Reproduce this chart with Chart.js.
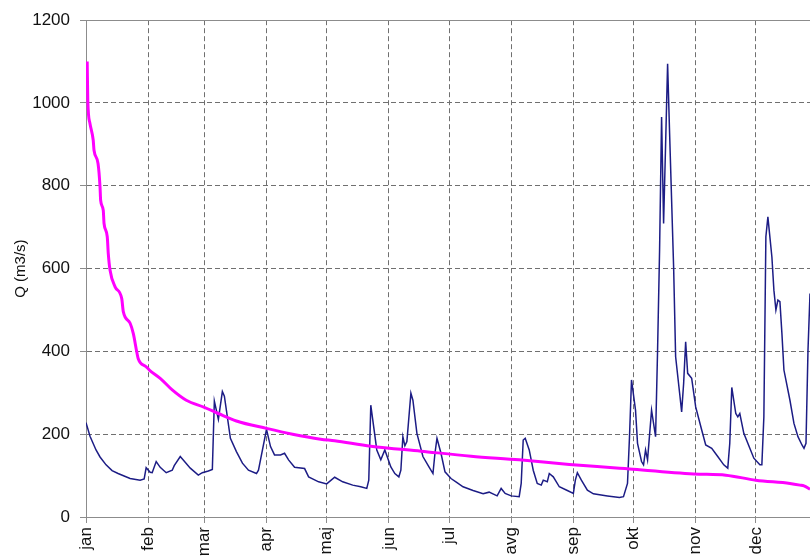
<!DOCTYPE html>
<html>
<head>
<meta charset="utf-8">
<script src="https://cdn.jsdelivr.net/npm/chart.js@4/dist/chart.umd.min.js"></script>
<style>
  html, body { margin: 0; padding: 0; background: #fff; overflow: hidden; }
  #wrap { width: 810px; height: 559px; }
</style>
</head>
<body>
<div id="wrap"><canvas id="chart" width="810" height="559"></canvas></div>
<script>
// Month labels and the day of year on which each month starts
const monthLabels = ['jan', 'feb', 'mar', 'apr', 'maj', 'jun', 'jul', 'avg', 'sep', 'okt', 'nov', 'dec'];
const monthStartDays = [0, 31, 59, 90, 120, 151, 181, 212, 243, 273, 304, 334];

// Daily discharge hydrograph, Q (m3/s), day of year
const hydroDays = [
  0, 2, 5, 7, 10, 13, 16, 19, 22, 27, 29, 30, 32, 33, 35, 37, 40, 43, 44, 47,
  52, 56, 58, 61, 63, 64, 66, 68, 69, 72, 75, 78, 81, 85, 86, 90, 92, 94, 97, 99,
  101, 104, 109, 111, 116, 120, 124, 128, 133, 137, 140, 141, 142, 143, 145, 147, 149, 152, 154, 156,
  157, 158, 159, 160, 162, 163, 165, 168, 171, 173, 174, 175, 177, 179, 182, 185, 188, 193, 198, 201,
  205, 207, 209, 212, 216, 217, 218, 219, 221, 223, 225, 227, 228, 230, 231, 233, 236, 240, 243, 244,
  245, 247, 250, 253, 260, 266, 268, 270, 271, 272, 274, 275, 277, 278, 279, 280, 282, 284, 285, 286,
  287, 288, 289, 290, 291, 293, 294, 296, 297, 298, 299, 300, 302, 304, 307, 309, 312, 315, 318, 320,
  321, 322, 324, 325, 326, 328, 331, 333, 336, 337, 338, 339, 340, 342, 343, 344, 345, 346, 347, 348,
  351, 353, 355, 357, 358, 359, 360, 361, 362
];
const hydroQ = [
  228, 195, 162, 145, 126, 112, 105, 99, 93, 89, 92, 119, 108, 107, 134, 120, 107, 113, 124, 146,
  118, 101, 107, 111, 115, 280, 236, 303, 292, 190, 158, 130, 113, 105, 113, 212, 170, 150, 150, 154,
  138, 120, 117, 97, 85, 80, 96, 85, 77, 73, 69, 89, 270, 234, 162, 138, 162, 121, 105, 97,
  113, 194, 172, 182, 299, 282, 202, 146, 121, 105, 154, 190, 154, 109, 93, 83, 73, 64, 56, 60,
  51, 69, 57, 51, 49, 81, 186, 190, 162, 113, 81, 77, 89, 85, 105, 97, 73, 64, 57, 89,
  107, 89, 65, 56, 51, 47, 49, 81, 194, 331, 258, 178, 134, 126, 162, 138, 258, 194, 403, 645,
  966, 709, 900, 1095, 926, 604, 387, 299, 254, 323, 423, 347, 335, 266, 210, 174, 166, 146, 126, 118,
  178, 313, 250, 242, 250, 202, 166, 142, 126, 126, 242, 677, 725, 628, 548, 500, 524, 520, 443, 355,
  282, 226, 194, 174, 166, 178, 403, 540, 600
];

// Flow duration curve, Q (m3/s) against number of days exceeded
const durationDays = [
  0.6, 0.9, 2, 3.6, 4, 6, 7, 7.3, 8.6, 9, 10.6, 11.1, 12, 14.5, 17.8, 18.6, 22, 23.6, 25.3, 26,
  30, 31.6, 37, 43, 50, 59, 66, 75, 90, 103, 117, 124, 142, 167, 192, 216, 241, 266, 271, 303,
  319, 334, 351, 356, 358, 361
];
const durationQ = [
  1100, 1005, 950, 910, 886, 854, 797, 765, 741, 709, 677, 637, 596, 556, 528, 496, 468, 443, 399, 383,
  363, 355, 335, 307, 282, 265, 250, 232, 214, 200, 188, 184, 171, 159, 147, 138, 127, 118, 116, 104,
  101, 89, 81, 77, 75, 67
];

const yTicks = [0, 200, 400, 600, 800, 1000, 1200];

const toXY = (xs, ys) => xs.map((x, i) => ({ x: x, y: ys[i] }));

const FONT = 'Arial, "Liberation Sans", sans-serif';
const GRID = '#707070';
const AXIS = '#8c8c8c';

new Chart(document.getElementById('chart'), {
  type: 'line',
  data: {
    datasets: [
      {
        label: 'duration',
        data: toXY(durationDays, durationQ),
        borderColor: '#ff00ff',
        borderWidth: 3,
        pointRadius: 0,
        cubicInterpolationMode: 'monotone',
        fill: false
      },
      {
        label: 'Q',
        data: toXY(hydroDays, hydroQ),
        borderColor: '#1c1c85',
        borderWidth: 1.5,
        pointRadius: 0,
        tension: 0,
        fill: false
      }
    ]
  },
  options: {
    responsive: false,
    animation: false,
    events: [],
    layout: { padding: { top: 20, left: 0, right: 0, bottom: 0 } },
    plugins: { legend: { display: false }, tooltip: { enabled: false }, title: { display: false } },
    scales: {
      x: {
        type: 'linear',
        position: 'bottom',
        min: 0,
        max: 361,
        afterBuildTicks: (scale) => { scale.ticks = monthStartDays.map(v => ({ value: v })); },
        afterFit: (scale) => { scale.height = 42; },
        ticks: {
          autoSkip: false,
          minRotation: 90,
          maxRotation: 90,
          padding: 4,
          color: '#111',
          font: { family: FONT, size: 17 },
          callback: (v) => monthLabels[monthStartDays.indexOf(v)]
        },
        grid: { color: GRID, lineWidth: 1, tickLength: 6, tickColor: AXIS, drawTicks: true },
        border: { display: true, color: AXIS, width: 1, dash: [5, 3] }
      },
      xTop: {
        type: 'linear',
        position: 'top',
        min: 0,
        max: 361,
        ticks: { display: false },
        grid: { display: false, drawTicks: false },
        border: { display: true, color: AXIS, width: 1 }
      },
      y: {
        type: 'linear',
        min: 0,
        max: 1200,
        afterBuildTicks: (scale) => { scale.ticks = yTicks.map(v => ({ value: v })); },
        afterFit: (scale) => { scale.width = 86; },
        ticks: {
          padding: 10,
          color: '#111',
          font: { family: FONT, size: 17 },
          callback: (v) => String(v)
        },
        grid: { color: GRID, lineWidth: 1, tickLength: 6, tickColor: AXIS, drawTicks: true },
        border: { display: true, color: AXIS, width: 1, dash: [5, 3] },
        title: {
          display: true,
          text: 'Q (m3/s)',
          color: '#111',
          font: { family: FONT, size: 15 },
          padding: { top: 12, bottom: 0 }
        }
      }
    }
  }
});
</script>
</body>
</html>
